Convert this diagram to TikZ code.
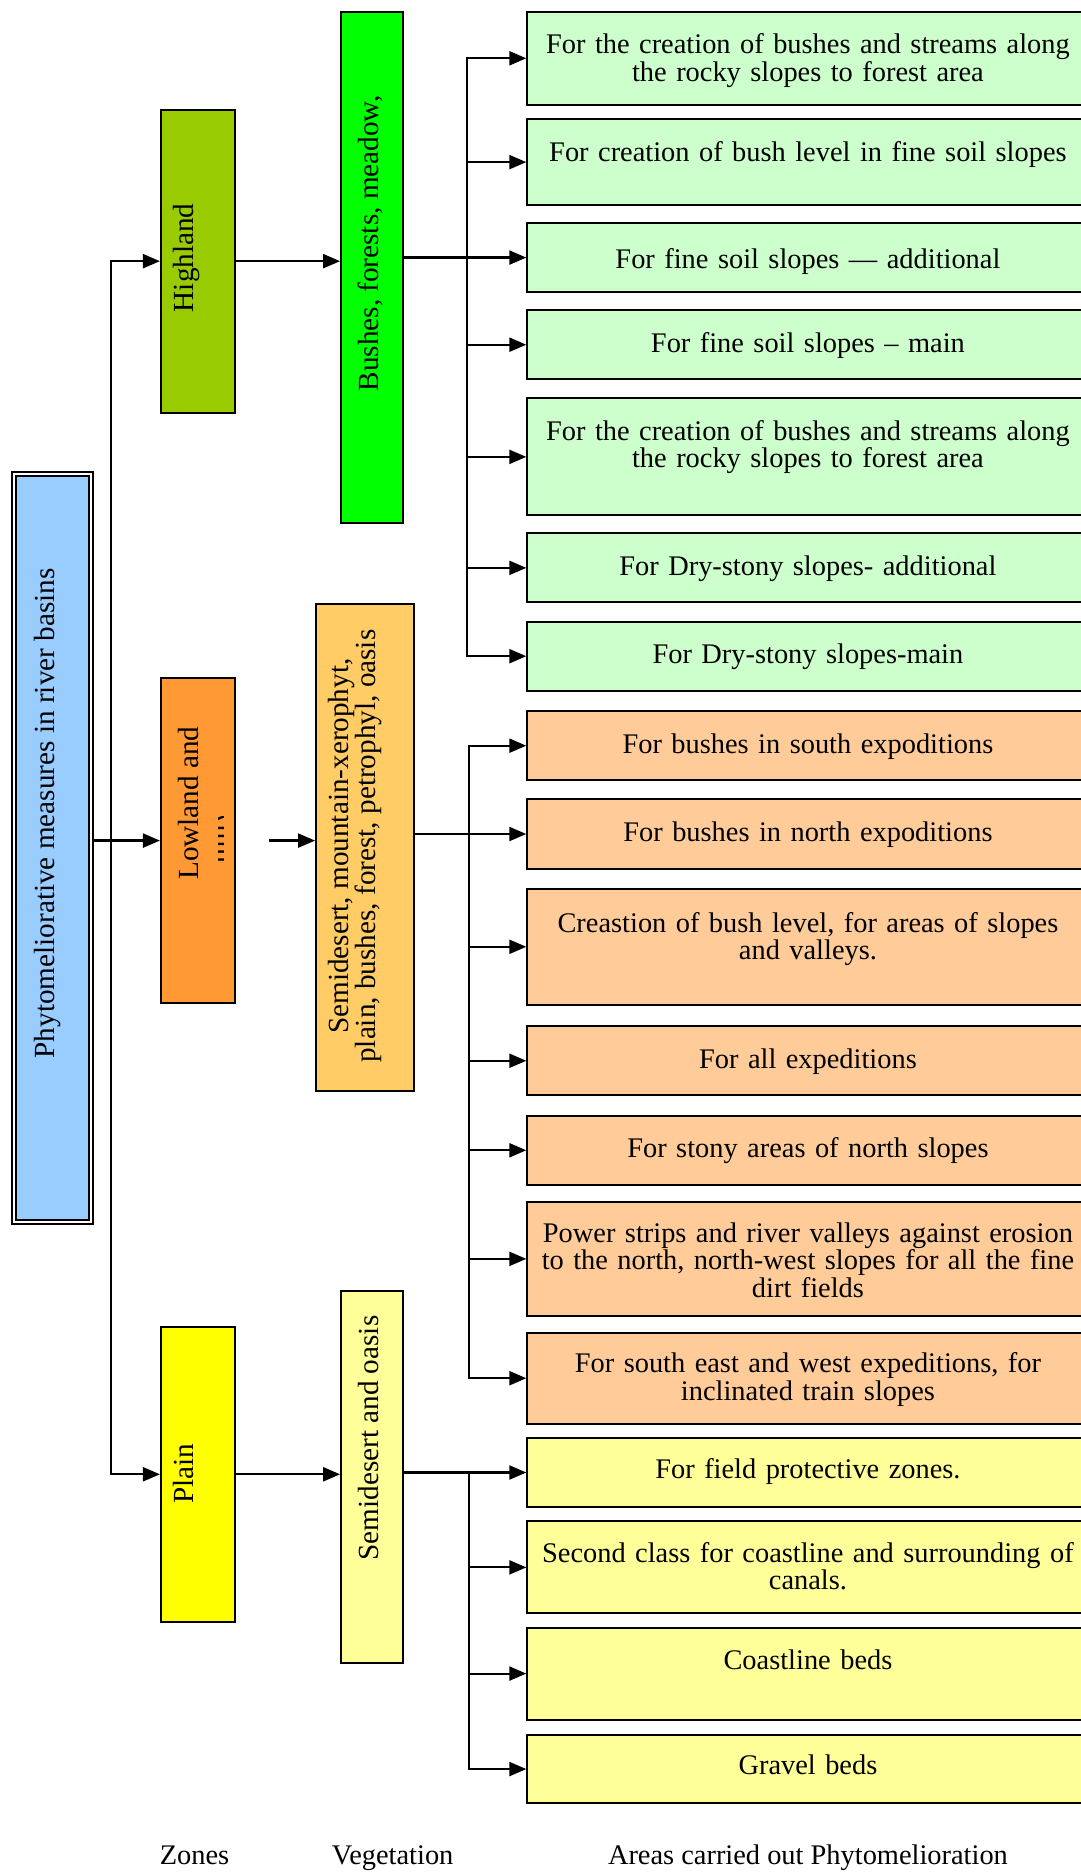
\documentclass[tikz,border=0pt]{standalone}
\usepackage{fontspec}
\setmainfont{Liberation Serif}
\usetikzlibrary{arrows.meta}
\definecolor{mainblue}{HTML}{99CCFF}
\definecolor{highc}{HTML}{99CC00}
\definecolor{lowc}{HTML}{FF9933}
\definecolor{plainc}{HTML}{FFFF00}
\definecolor{vegAc}{HTML}{00FF00}
\definecolor{vegBc}{HTML}{FFCC66}
\definecolor{vegCc}{HTML}{FFFF99}
\definecolor{areaAc}{HTML}{CCFFCC}
\definecolor{areaBc}{HTML}{FFCC99}
\definecolor{areaCc}{HTML}{FFFF99}
\newcommand\fs{\fontsize{14.6}{13.8}\selectfont}
\newcommand\fh{\fontsize{14.2}{13.8}\selectfont}
\newcommand\mybox[6]{\node[bx, fill=#6, minimum width={(#4-#2)*0.59669pt}, minimum height={(#5-#3)*0.59669pt}] (#1) at (#2,#3) {};}
\begin{document}
\begin{tikzpicture}[x=0.59669pt, y=-0.59669pt,
  every node/.style={font=\fs},
  ln/.style={line width=1.1pt, line cap=rect},
  arr/.style={line width=1.1pt, -{Triangle[length=8.5pt,width=7pt]}},
  bx/.style={draw, line width=1pt, rectangle, inner sep=0pt, anchor=north west},
  rt/.style={rotate=90, anchor=base, inner sep=0pt},
  atx/.style={anchor=base, inner sep=0pt, align=center, text width=300pt, font=\fh},
  lab/.style={anchor=base, inner sep=0pt, font=\fh}]
\useasboundingbox (0,0) rectangle (905,1568.6);
% main box
\node[draw, line width=0.9pt, double=white, double distance=1.2pt, fill=mainblue,
  rectangle, inner sep=0pt, anchor=north west,
  minimum width={64.5*0.59669pt}, minimum height={626.8*0.59669pt}] (main) at (10.75,396.5) {};
\node[rt] (tmain) at (46,681.5) {Phytomeliorative measures in river basins};
% zones
\mybox{high}{134}{91}{196}{345}{highc}
\mybox{low}{134}{567}{196}{840}{lowc}
\mybox{plain}{134}{1111}{196}{1358}{plainc}
\node[rt] (thigh) at (162,216) {Highland};
\node[rt] (tlow) at (166,673) {Lowland and};
\begin{scope}
  \clip (183,684) rectangle (187.5,722);
  \node[rt] (tlow2) at (189,701) {hilly};
\end{scope}
\node[rt] (tplain) at (162,1235) {Plain};
% vegetation
\mybox{vegA}{285}{9}{337}{437}{vegAc}
\mybox{vegB}{264}{505}{346}{913}{vegBc}
\mybox{vegC}{285}{1081}{337}{1393}{vegCc}
\node[rt] (tvegA) at (317,204) {Bushes, forests, meadow,};
\node[rotate=90, anchor=center, inner sep=0pt, align=center] (tvegB) at (297.5,709)
  {Semidesert, mountain-xerophyt,\\plain, bushes, forest, petrophyl, oasis};
\node[rt] (tvegC) at (317,1205) {Semidesert and oasis};
% areas - highland
\mybox{a1}{441}{9}{915}{87}{areaAc}
\mybox{a2}{441}{99}{915}{171}{areaAc}
\mybox{a3}{441}{186}{915}{244}{areaAc}
\mybox{a4}{441}{259}{915}{317}{areaAc}
\mybox{a5}{441}{333}{915}{431}{areaAc}
\mybox{a6}{441}{446}{915}{504}{areaAc}
\mybox{a7}{441}{520}{915}{578}{areaAc}
% areas - lowland
\mybox{b1}{441}{595}{915}{653}{areaBc}
\mybox{b2}{441}{669}{915}{727}{areaBc}
\mybox{b3}{441}{744}{915}{841}{areaBc}
\mybox{b4}{441}{859}{915}{917}{areaBc}
\mybox{b5}{441}{934}{915}{992}{areaBc}
\mybox{b6}{441}{1006}{915}{1102}{areaBc}
\mybox{b7}{441}{1116}{915}{1192}{areaBc}
% areas - plain
\mybox{c1}{441}{1204}{915}{1262}{areaCc}
\mybox{c2}{441}{1274}{915}{1351}{areaCc}
\mybox{c3}{441}{1363}{915}{1440}{areaCc}
\mybox{c4}{441}{1453}{915}{1510}{areaCc}
% area texts
\node[atx] (ta1) at (677,45) {For the creation of bushes and streams along\\the rocky slopes to forest area};
\node[atx] (ta2) at (677,135) {For creation of bush level in fine soil slopes};
\node[atx] (ta3) at (677,225) {For fine soil slopes — additional};
\node[atx] (ta4) at (677,295) {For fine soil slopes – main};
\node[atx] (ta5) at (677,369) {For the creation of bushes and streams along\\the rocky slopes to forest area};
\node[atx] (ta6) at (677,482) {For Dry-stony slopes- additional};
\node[atx] (ta7) at (677,556) {For Dry-stony slopes-main};
\node[atx] (tb1) at (677,631) {For bushes in south expoditions};
\node[atx] (tb2) at (677,705) {For bushes in north expoditions};
\node[atx] (tb3) at (677,781) {Creastion of bush level, for areas of slopes\\and valleys.};
\node[atx] (tb4) at (677,895) {For all expeditions};
\node[atx] (tb5) at (677,970) {For stony areas of north slopes};
\node[atx] (tb6) at (677,1041) {Power strips and river valleys against erosion\\to the north, north-west slopes for all the fine\\dirt fields};
\node[atx] (tb7) at (677,1150) {For south east and west expeditions, for\\inclinated train slopes};
\node[atx] (tc1) at (677,1239) {For field protective zones.};
\node[atx] (tc2) at (677,1309) {Second class for coastline and surrounding of\\canals.};
\node[atx] (tc3) at (677,1399) {Coastline beds};
\node[atx] (tc4) at (677,1487) {Gravel beds};
% bottom labels
\node[lab] (lz) at (163,1562) {Zones};
\node[lab] (lv) at (329,1562) {Vegetation};
\node[lab] (la) at (677,1562) {Areas carried out Phytomelioration};
% connectors: main to zones
\coordinate (trunk) at (93,0);
\draw[arr] (main.east |- low.west) -- (low.west);
\draw[ln] (trunk |- high.west) -- (trunk |- plain.west);
\draw[arr] (trunk |- high.west) -- (high.west);
\draw[arr] (trunk |- plain.west) -- (plain.west);
% zones to vegetation
\coordinate (lstart) at (225,0);
\draw[arr] (high.east) -- (high.east -| vegA.west);
\draw[arr] (lstart |- low.east) -- (low.east -| vegB.west);
\draw[arr] (plain.east) -- (plain.east -| vegC.west);
% vegetation to areas
\coordinate (busA) at (391,0);
\coordinate (busB) at (393,0);
\coordinate (busC) at (393,0);
\draw[ln] (vegA.east |- a3.west) -- (busA |- a3.west);
\draw[ln] (busA |- a1.west) -- (busA |- a7.west);
\foreach \n in {a1,a2,a3,a4,a5,a6,a7} \draw[arr] (busA |- \n.west) -- (\n.west);
\draw[ln] (vegB.east |- b2.west) -- (busB |- b2.west);
\draw[ln] (busB |- b1.west) -- (busB |- b7.west);
\foreach \n in {b1,b2,b3,b4,b5,b6,b7} \draw[arr] (busB |- \n.west) -- (\n.west);
\draw[ln] (vegC.east |- c1.west) -- (busC |- c1.west);
\draw[ln] (busC |- c1.west) -- (busC |- c4.west);
\foreach \n in {c1,c2,c3,c4} \draw[arr] (busC |- \n.west) -- (\n.west);
\end{tikzpicture}
\end{document}
